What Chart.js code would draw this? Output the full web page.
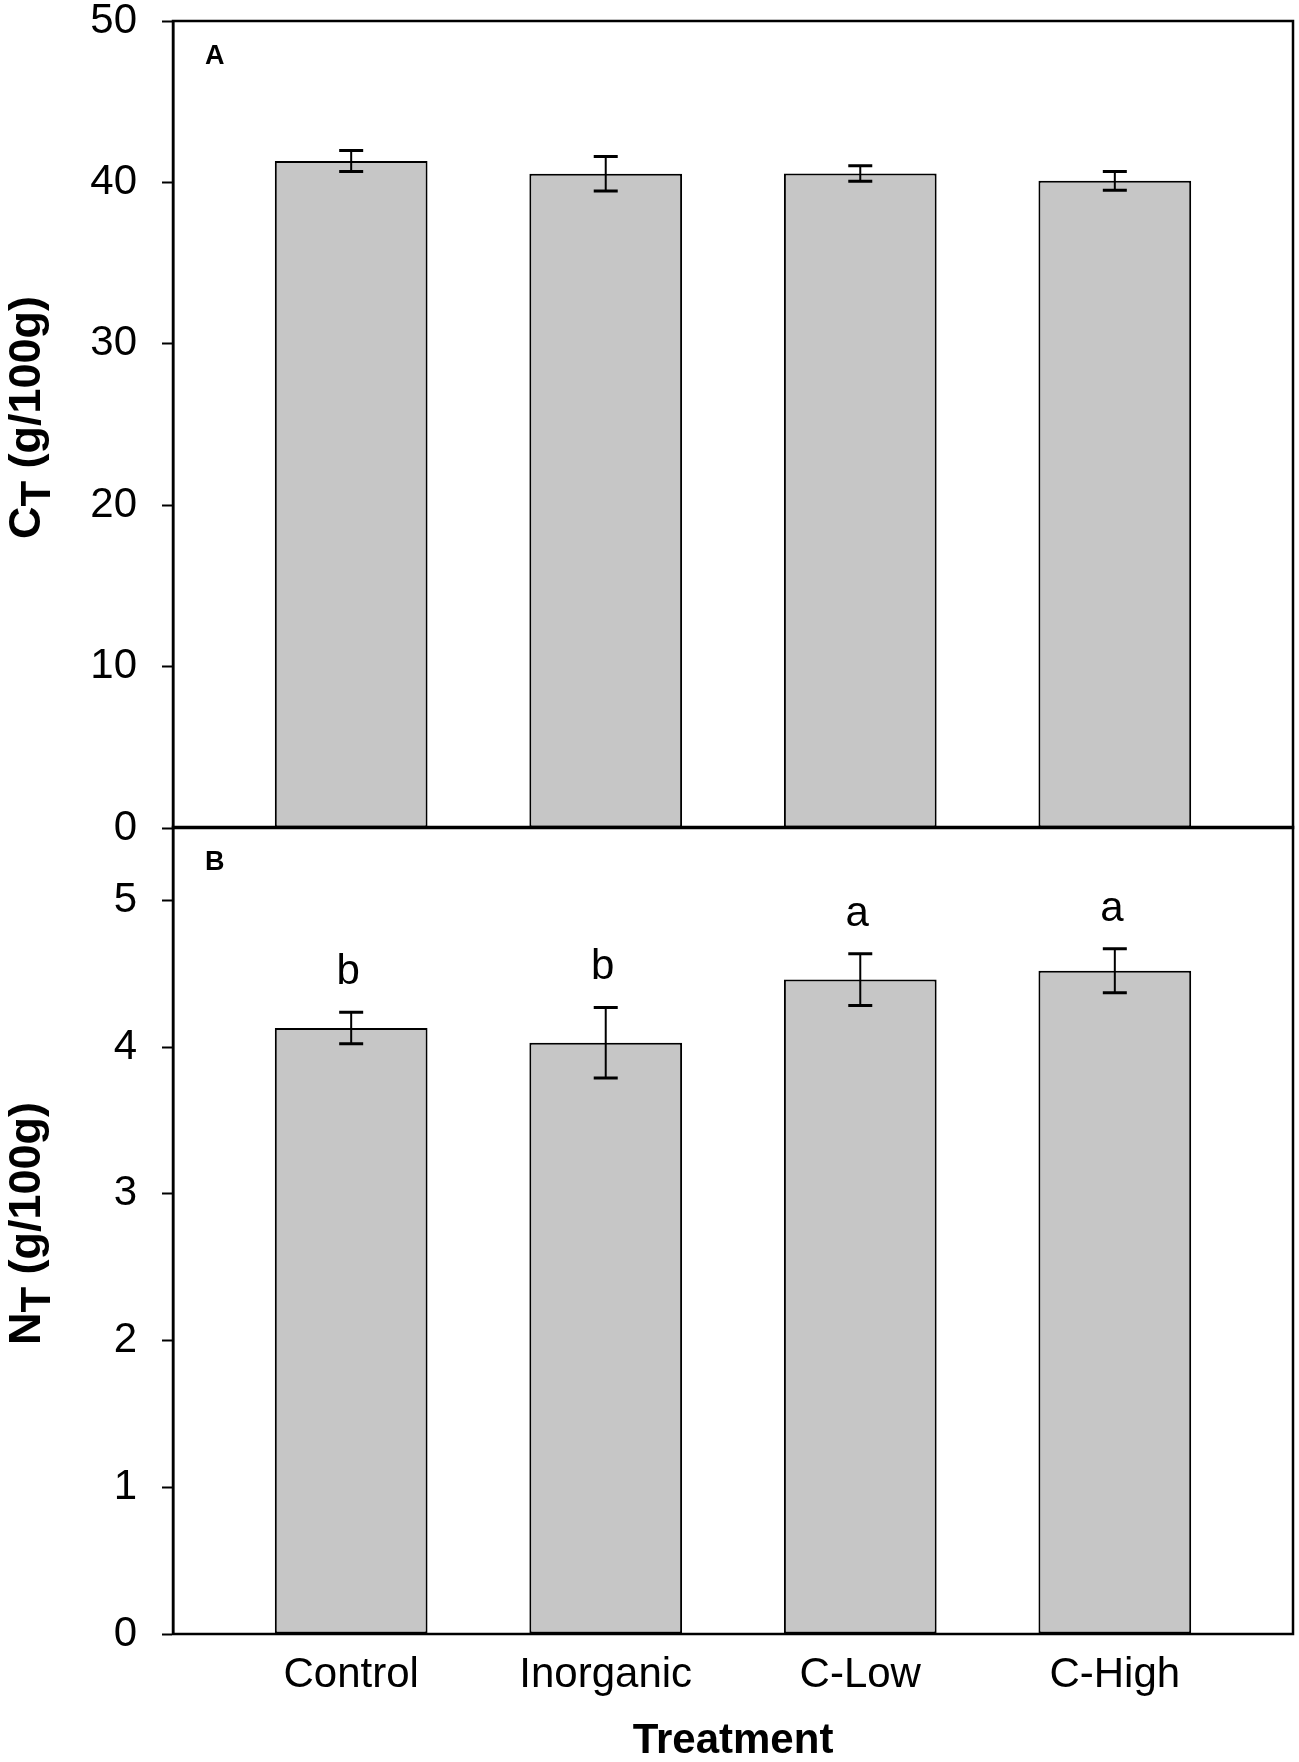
<!DOCTYPE html>
<html>
<head>
<meta charset="utf-8">
<script src="https://cdn.jsdelivr.net/npm/chart.js@4.4.1/dist/chart.umd.min.js"></script>
<style>
  html, body { margin: 0; padding: 0; background: #ffffff; overflow: hidden; }
  #wrap { position: relative; width: 1299px; height: 1762px; background: #ffffff; overflow: hidden; }
  .panel { position: absolute; left: 0; width: 1299px; }
  #pA { top: -25px; height: 899px; }
  #pB { top: 781px; height: 981px; }
</style>
</head>
<body>
<div id="wrap">
  <div class="panel" id="pA"><canvas id="chartA"></canvas></div>
  <div class="panel" id="pB"><canvas id="chartB"></canvas></div>
</div>
<script>
// ---- data ----
const categories = ['Control', 'Inorganic', 'C-Low', 'C-High'];
const carbonMeans = [41.33, 40.54, 40.55, 40.10];
const carbonErrors = [0.65, 1.07, 0.48, 0.58];
const nitrogenMeans = [4.13, 4.03, 4.46, 4.52];
const nitrogenErrors = [0.107, 0.24, 0.177, 0.15];
const nitrogenLetters = ['b', 'b', 'a', 'a'];
const carbonTicks = [0, 10, 20, 30, 40, 50];
const nitrogenTicks = [0, 1, 2, 3, 4, 5];

const FONT = "'Liberation Sans', Arial, sans-serif";

function toPoints(values) {
  return values.map((v, i) => ({ x: i + 1, y: v }));
}

// error bars + significance letters + frame + labels
const decorPlugin = {
  id: 'decor',
  afterDatasetsDraw(chart, args, opts) {
    const ctx = chart.ctx;
    const xs = chart.scales.x, ys = chart.scales.y;
    ctx.save();
    ctx.strokeStyle = '#000';
    opts.means.forEach((m, i) => {
      const x = xs.getPixelForValue(i + 1);
      const yt = ys.getPixelForValue(m + opts.errors[i]);
      const yb = ys.getPixelForValue(m - opts.errors[i]);
      ctx.lineWidth = 2;
      ctx.beginPath();
      ctx.moveTo(x, yt); ctx.lineTo(x, yb);
      ctx.stroke();
      ctx.lineWidth = 3;
      ctx.beginPath();
      ctx.moveTo(x - 12, yt); ctx.lineTo(x + 12, yt);
      ctx.moveTo(x - 12, yb); ctx.lineTo(x + 12, yb);
      ctx.stroke();
      if (opts.letters) {
        ctx.fillStyle = '#000';
        ctx.font = '42px ' + FONT;
        ctx.textAlign = 'center';
        ctx.textBaseline = 'alphabetic';
        ctx.fillText(opts.letters[i], x - 3, yt - 28);
      }
    });
    ctx.restore();
  },
  afterDraw(chart, args, opts) {
    const ctx = chart.ctx;
    const a = chart.chartArea;
    ctx.save();
    // frame
    ctx.strokeStyle = '#000';
    ctx.lineWidth = 2.5;
    ctx.strokeRect(a.left, a.top, a.right - a.left, a.bottom - a.top);
    // panel letter
    ctx.fillStyle = '#000';
    ctx.font = 'bold 27px ' + FONT;
    ctx.textAlign = 'left';
    ctx.textBaseline = 'alphabetic';
    ctx.fillText(opts.panel, a.left + 32, a.top + opts.panelDy);
    // y title with subscript
    const main = 'bold 45px ' + FONT;
    const sub = 'bold 42px ' + FONT;
    ctx.font = main; const w1 = ctx.measureText(opts.yMain).width;
    const w3 = ctx.measureText(opts.yRest).width;
    ctx.font = sub; const w2 = ctx.measureText(opts.ySub).width;
    const total = w1 + w2 + w3;
    ctx.translate(40, (a.top + a.bottom) / 2 - 7);
    ctx.rotate(-Math.PI / 2);
    let x0 = -total / 2;
    ctx.font = main; ctx.fillText(opts.yMain, x0, 0);
    ctx.font = sub; ctx.fillText(opts.ySub, x0 + w1, 10);
    ctx.font = main; ctx.fillText(opts.yRest, x0 + w1 + w2, 0);
    ctx.restore();
  }
};

function yAxis(max, ticksArr) {
  return {
    type: 'linear',
    min: 0,
    max: max,
    afterFit(scale) { scale.width = 173; },
    afterBuildTicks(scale) { scale.ticks = ticksArr.map(v => ({ value: v })); },
    ticks: {
      color: '#000',
      font: { family: FONT, size: 42, lineHeight: 1 },
      padding: 25
    },
    grid: {
      display: true,
      drawOnChartArea: false,
      drawTicks: true,
      tickLength: 11,
      tickWidth: 2,
      tickColor: '#000',
      color: '#000'
    },
    border: { display: true, color: '#000', width: 2.5 }
  };
}

function categoryTicks(scale) {
  scale.ticks = categories.map((c, i) => ({ value: i + 1 }));
}

function barDataset(values) {
  return {
    data: toPoints(values),
    backgroundColor: '#c6c6c6',
    borderColor: '#000',
    borderWidth: 2,
    borderSkipped: false,
    barPercentage: 0.6,
    categoryPercentage: 1.0
  };
}

Chart.defaults.font.family = FONT;

new Chart(document.getElementById('chartA'), {
  type: 'bar',
  data: { datasets: [barDataset(carbonMeans)] },
  options: {
    responsive: true,
    maintainAspectRatio: false,
    animation: false,
    layout: { padding: { top: 0, right: 6, bottom: 0, left: 0 } },
    plugins: {
      legend: { display: false },
      tooltip: { enabled: false },
      decor: { means: carbonMeans, errors: carbonErrors, letters: null,
               panel: 'A', panelDy: 43, yMain: 'C', ySub: 'T', yRest: ' (g/100g)' }
    },
    scales: {
      x: { type: 'linear', min: 0.3, max: 4.7, offset: false, display: false,
           afterBuildTicks: categoryTicks },
      y: yAxis(50, carbonTicks)
    }
  },
  plugins: [decorPlugin]
});

new Chart(document.getElementById('chartB'), {
  type: 'bar',
  data: { datasets: [barDataset(nitrogenMeans)] },
  options: {
    responsive: true,
    maintainAspectRatio: false,
    animation: false,
    layout: { padding: { top: 0, right: 6, bottom: 0, left: 0 } },
    plugins: {
      legend: { display: false },
      tooltip: { enabled: false },
      decor: { means: nitrogenMeans, errors: nitrogenErrors, letters: nitrogenLetters,
               panel: 'B', panelDy: 43, yMain: 'N', ySub: 'T', yRest: ' (g/100g)' }
    },
    scales: {
      x: {
        type: 'linear', min: 0.3, max: 4.7, offset: false,
        afterFit(scale) { scale.height = 128; },
        afterBuildTicks: categoryTicks,
        ticks: {
          color: '#000',
          font: { family: FONT, size: 42, lineHeight: 1 },
          padding: 20,
          maxRotation: 0,
          autoSkip: false,
          callback: (v) => categories[v - 1]
        },
        grid: { display: false, drawTicks: false },
        border: { display: false },
        title: {
          display: true,
          text: 'Treatment',
          color: '#000',
          font: { family: FONT, size: 42, weight: 'bold', lineHeight: 1 },
          padding: { top: 0, bottom: 0 }
        }
      },
      y: yAxis(5.5, nitrogenTicks)
    }
  },
  plugins: [decorPlugin]
});
</script>
</body>
</html>
